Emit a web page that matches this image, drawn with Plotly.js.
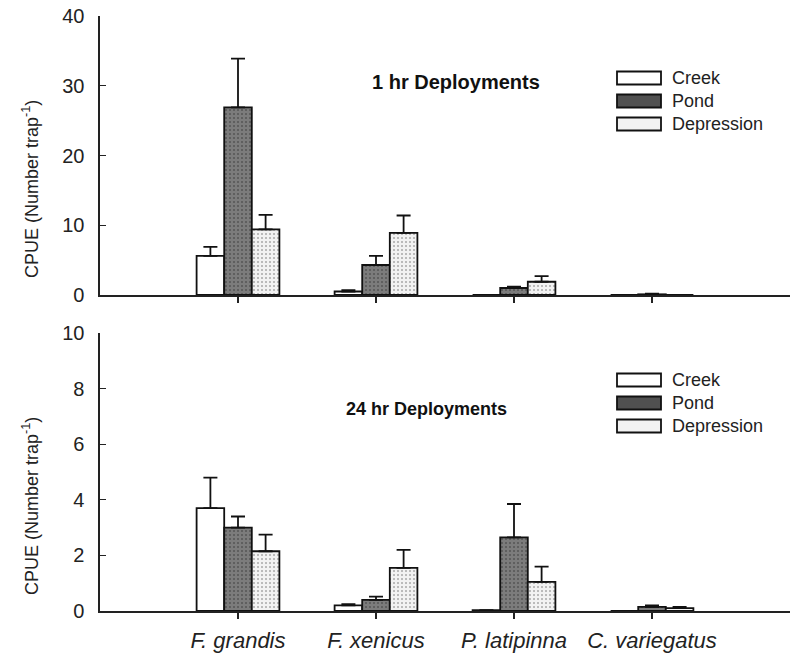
<!DOCTYPE html>
<html>
<head>
<meta charset="utf-8">
<script src="https://cdn.plot.ly/plotly-3.0.1.min.js"></script>
<style>
html,body{margin:0;padding:0;background:#fff;}
#chart{width:795px;height:655px;}
</style>
</head>
<body>
<div id="chart"></div>
<script>
// ---- data ----
var species = ["F. grandis", "F. xenicus", "P. latipinna", "C. variegatus"];
var seriesNames = ["Creek", "Pond", "Depression"];

// 1 hr deployments: mean CPUE and standard error
var creek1 = [5.6, 0.5, 0, 0];
var pond1 = [26.9, 4.3, 1.0, 0.1];
var depression1 = [9.4, 8.9, 1.9, 0];
var creek1SE = [1.3, 0.2, 0, 0];
var pond1SE = [7.0, 1.3, 0.2, 0.1];
var depression1SE = [2.1, 2.5, 0.8, 0];

// 24 hr deployments
var creek24 = [3.7, 0.2, 0.03, 0];
var pond24 = [3.0, 0.4, 2.65, 0.15];
var depression24 = [2.15, 1.55, 1.05, 0.1];
var creek24SE = [1.1, 0.05, 0, 0];
var pond24SE = [0.4, 0.12, 1.2, 0.05];
var depression24SE = [0.6, 0.65, 0.55, 0.05];

var yTicks1 = [0, 10, 20, 30, 40];
var yTicks24 = [0, 2, 4, 6, 8, 10];

var panelTitles = ["1 hr Deployments", "24 hr Deployments"];
var yTitle = "CPUE (Number trap<sup>-1</sup>)";

// ---- styles ----
var FONT = "Liberation Sans, Arial, sans-serif";
var fills = ["#ffffff", "#7c7c7c", "#f2f2f2"];
var patterns = ["", ".", "."];
var patFg = ["#000", "#555555", "#a8a8a8"];

function zeros(a){ return a.map(function(){ return 0; }); }

function barTrace(name, idx, y, se, xa, ya){
  var m = {color: fills[idx], line: {color: "#111", width: 1.8}};
  if (patterns[idx]) {
    m.pattern = {shape: patterns[idx], fgcolor: patFg[idx], bgcolor: fills[idx],
                 size: 4, solidity: 0.2, fillmode: "replace"};
  }
  return {
    type: "bar", name: name, x: species, y: y, xaxis: xa, yaxis: ya,
    showlegend: false, marker: m,
    error_y: {type: "data", symmetric: false, array: se, arrayminus: zeros(se),
              color: "#111", thickness: 1.8, width: 7}
  };
}

var data = [
  barTrace(seriesNames[0], 0, creek1, creek1SE, "x", "y"),
  barTrace(seriesNames[1], 1, pond1, pond1SE, "x", "y"),
  barTrace(seriesNames[2], 2, depression1, depression1SE, "x", "y"),
  barTrace(seriesNames[0], 0, creek24, creek24SE, "x2", "y2"),
  barTrace(seriesNames[1], 1, pond24, pond24SE, "x2", "y2"),
  barTrace(seriesNames[2], 2, depression24, depression24SE, "x2", "y2")
];

var tickFont = {family: FONT, size: 20, color: "#222"};

function xAxis(anchor, showLabels){
  return {
    anchor: anchor, domain: [0, 1], type: "category", range: [-1, 4],
    showline: true, linecolor: "#222", linewidth: 1.6,
    ticks: "outside", ticklen: 6, tickcolor: "#222", tickwidth: 1.3,
    showgrid: false, zeroline: false,
    showticklabels: showLabels, ticklabelstandoff: 3,
    tickfont: {family: FONT, size: 22, color: "#222", style: "italic"}
  };
}
function yAxis(anchor, domain, range, tv){
  return {
    anchor: anchor, domain: domain, range: range, tickvals: tv,
    showline: true, linecolor: "#222", linewidth: 1.6,
    ticks: "inside", ticklen: 6, tickcolor: "#222", tickwidth: 1.3,
    showgrid: false, zeroline: false,
    ticklabelstandoff: 10,
    tickfont: tickFont
  };
}

var shapes = [], annotations = [];
function toPaperX(px){ return (px - 100) / 690; }
function toPaperY(py){ return 1 - (py - 16) / 595; }

// legend drawn as swatches + labels
function legend(yTopPx){
  for (var i = 0; i < 3; i++){
    var cy = yTopPx + i * 23;
    shapes.push({type: "rect", xref: "paper", yref: "paper",
      x0: toPaperX(617), x1: toPaperX(661),
      y0: toPaperY(cy - 6.5), y1: toPaperY(cy + 6.5),
      fillcolor: i === 1 ? "#505050" : fills[i], line: {color: "#111", width: 1.8}});
    annotations.push({xref: "paper", yref: "paper", x: toPaperX(670), y: toPaperY(cy),
      xanchor: "left", yanchor: "middle", showarrow: false, text: seriesNames[i],
      font: {family: FONT, size: 18, color: "#222"}});
  }
}
legend(78);
legend(380);

annotations.push({xref: "paper", yref: "paper", x: toPaperX(456), y: toPaperY(69),
  showarrow: false, text: "<b>" + panelTitles[0] + "</b>",
  font: {family: FONT, size: 20, color: "#111"}});
annotations.push({xref: "paper", yref: "paper", x: toPaperX(426), y: toPaperY(409),
  showarrow: false, text: "<b>" + panelTitles[1] + "</b>",
  font: {family: FONT, size: 18, color: "#111"}});

// y-axis titles
[189, 506].forEach(function(cy){
  annotations.push({xref: "paper", yref: "paper", x: toPaperX(30), y: toPaperY(cy),
    xanchor: "center", yanchor: "middle", textangle: -90, showarrow: false,
    text: yTitle, font: {family: FONT, size: 18, color: "#222"}});
});

var layout = {
  width: 795, height: 655,
  margin: {l: 100, r: 5, t: 16, b: 44},
  paper_bgcolor: "#fff", plot_bgcolor: "#fff",
  barmode: "group", bargap: 0.4, bargroupgap: 0,
  showlegend: false,
  xaxis: xAxis("y", false),
  yaxis: yAxis("x", [0.5311, 1], [0, 40], yTicks1),
  xaxis2: xAxis("y2", true),
  yaxis2: yAxis("x2", [0, 0.4672], [0, 10], yTicks24),
  shapes: shapes,
  annotations: annotations
};

Plotly.newPlot("chart", data, layout, {displayModeBar: false, staticPlot: true});
</script>
</body>
</html>
